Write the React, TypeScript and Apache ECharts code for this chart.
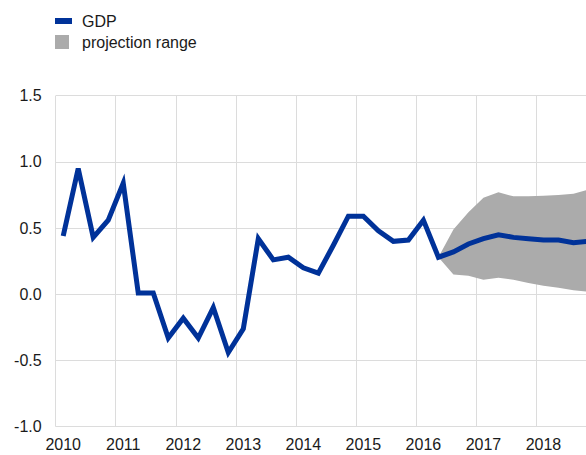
import React, { useEffect, useRef } from "react";
import * as echarts from "echarts";

const quarters: string[] = [];
for (let y = 2010; y <= 2018; y++) for (let q = 1; q <= 4; q++) quarters.push(`${y}Q${q}`);

const gdp = [
  0.44, 0.95, 0.43, 0.56, 0.84, 0.01, 0.01, -0.33, -0.18, -0.33, -0.10, -0.44,
  -0.26, 0.42, 0.26, 0.28, 0.20, 0.16, 0.37, 0.59, 0.59, 0.48, 0.40, 0.41,
  0.56, 0.28, 0.32, 0.38, 0.42, 0.45, 0.43, 0.42, 0.41, 0.41, 0.39, 0.40,
];

const N = null;
const rangeLower = [
  N, N, N, N, N, N, N, N, N, N, N, N, N, N, N, N, N, N, N, N, N, N, N, N, N,
  0.28, 0.15, 0.14, 0.11, 0.125, 0.11, 0.085, 0.065, 0.05, 0.03, 0.02,
];
const rangeUpper = [
  N, N, N, N, N, N, N, N, N, N, N, N, N, N, N, N, N, N, N, N, N, N, N, N, N,
  0.28, 0.49, 0.62, 0.73, 0.77, 0.74, 0.74, 0.745, 0.75, 0.76, 0.79,
];

const yTicks = { min: -1.0, max: 1.5, interval: 0.5 };

export default function App() {
  const ref = useRef<HTMLDivElement>(null);
  useEffect(() => {
    if (!ref.current) return;
    const chart = echarts.init(ref.current, undefined, { renderer: "svg" });
    const font = "'Liberation Sans', Arial, sans-serif";
    const textColor = "#1a1a1a";
    const diff = rangeUpper.map((u, i) =>
      u == null || rangeLower[i] == null ? null : +(u - (rangeLower[i] as number)).toFixed(4)
    );
    chart.setOption({
      animation: false,
      textStyle: { fontFamily: font },
      legend: [
        {
          data: [{ name: "GDP", icon: "rect" }],
          left: 55,
          top: 13,
          padding: 0,
          itemWidth: 17,
          itemHeight: 6,
          textStyle: { fontSize: 16, color: textColor, fontFamily: font, padding: [0, 0, 0, 5] },
          selectedMode: false,
        },
        {
          data: [{ name: "projection range", icon: "rect" }],
          left: 55,
          top: 34,
          padding: 0,
          itemWidth: 14,
          itemHeight: 14,
          textStyle: { fontSize: 16, color: textColor, fontFamily: font, padding: [0, 0, 0, 8] },
          selectedMode: false,
        },
      ],
      grid: { left: 55.7, right: 0, top: 95.7, bottom: 28.3, containLabel: false },
      xAxis: {
        type: "category",
        data: quarters,
        boundaryGap: true,
        axisLine: { show: false },
        axisTick: { show: false },
        axisLabel: {
          interval: 3,
          formatter: (v: string) => v.slice(0, 4),
          fontSize: 16,
          color: textColor,
          fontFamily: font,
          margin: 10,
        },
        splitLine: { show: true, interval: 3, lineStyle: { color: "#dcdcdc", width: 1 } },
      },
      yAxis: {
        type: "value",
        min: yTicks.min,
        max: yTicks.max,
        interval: yTicks.interval,
        axisLine: { show: false },
        axisTick: { show: false },
        axisLabel: {
          formatter: (v: number) => v.toFixed(1),
          fontSize: 16,
          color: textColor,
          fontFamily: font,
          margin: 14,
        },
        splitLine: { show: true, lineStyle: { color: "#dcdcdc", width: 1 } },
      },
      series: [
        {
          name: "lower",
          type: "line",
          stack: "band",
          data: rangeLower,
          symbol: "none",
          lineStyle: { width: 0, opacity: 0 },
          silent: true,
          z: 1,
        },
        {
          name: "projection range",
          type: "line",
          stack: "band",
          data: diff,
          symbol: "none",
          color: "#ababab",
          lineStyle: { width: 0, opacity: 0 },
          areaStyle: { color: "#ababab", opacity: 1 },
          silent: true,
          z: 1,
        },
        {
          name: "GDP",
          type: "line",
          data: gdp,
          symbol: "none",
          color: "#003299",
          lineStyle: { width: 5, color: "#003299", join: "miter" },
          z: 3,
        },
      ],
    });
    return () => chart.dispose();
  }, []);
  return (
    <div
      style={{
        position: "fixed",
        left: 0,
        top: 0,
        width: 586,
        height: 455,
        overflow: "hidden",
        background: "#fff",
      }}
    >
      <div ref={ref} style={{ width: 596, height: 455 }} />
    </div>
  );
}
